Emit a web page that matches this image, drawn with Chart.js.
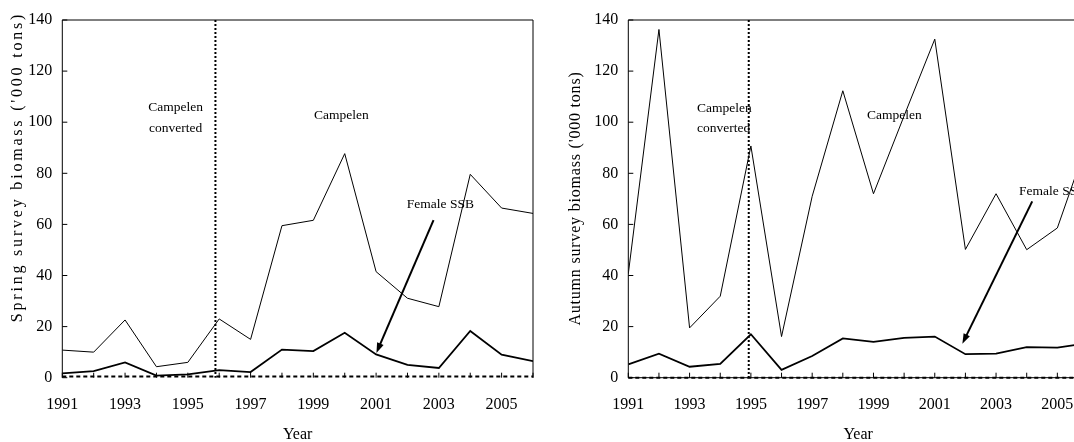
<!DOCTYPE html>
<html>
<head>
<meta charset="utf-8">
<script src="https://cdn.jsdelivr.net/npm/chart.js@4.4.1/dist/chart.umd.min.js"></script>
<style>
  html, body { margin: 0; padding: 0; background: #fff; overflow: hidden; }
  #wrap { position: relative; width: 1074px; height: 442px; overflow: hidden; }
  #springBox { position: absolute; left: 0; top: 0; width: 550px; height: 442px; }
  #autumnBox { position: absolute; left: 540px; top: 0; width: 565px; height: 442px; }
</style>
</head>
<body>
<div id="wrap">
  <div id="springBox"><canvas id="springChart" width="550" height="442"></canvas></div>
  <div id="autumnBox"><canvas id="autumnChart" width="565" height="442"></canvas></div>
</div>
<script>
var years = [1991, 1992, 1993, 1994, 1995, 1996, 1997, 1998, 1999, 2000, 2001, 2002, 2003, 2004, 2005, 2006];

var springCampelen = [10.8, 10.0, 22.6, 4.3, 6.0, 23.0, 15.0, 59.5, 61.6, 87.7, 41.5, 31.1, 27.8, 79.6, 66.4, 64.3];
var springFemaleSsb = [1.7, 2.6, 6.0, 0.8, 1.3, 3.0, 2.2, 11.0, 10.4, 17.6, 9.1, 5.0, 3.8, 18.3, 9.0, 6.5];
var springBaseline = [0.5, 0.5, 0.5, 0.5, 0.5, 0.5, 0.5, 0.5, 0.5, 0.5, 0.5, 0.5, 0.5, 0.5, 0.5, 0.5];

var autumnCampelen = [40.7, 136.3, 19.5, 31.9, 90.7, 16.1, 71.0, 112.3, 72.0, 102.5, 132.5, 50.2, 72.0, 50.1, 58.6, 93.0];
var autumnFemaleSsb = [5.2, 9.4, 4.3, 5.4, 17.0, 3.1, 8.5, 15.4, 14.0, 15.6, 16.1, 9.2, 9.4, 12.0, 11.8, 13.5];
var autumnBaseline = [0, 0, 0, 0, 0, 0, 0, 0, 0, 0, 0, 0, 0, 0, 0, 0];

var yTicks = [0, 20, 40, 60, 80, 100, 120, 140];
var xLabelYears = [1991, 1993, 1995, 1997, 1999, 2001, 2003, 2005];

// gear change (Campelen converted -> Campelen)
var springConversionYear = 1995.88;
var autumnConversionYear = 1994.93;

var FONT = "'Liberation Serif', 'Times New Roman', serif";

function points(vals) {
    return years.map(function (y, i) { return { x: y, y: vals[i] }; });
}

// box, inner ticks, dotted divider, notes, arrow and axis titles
var frame = {
    id: "frame",
    afterDatasetsDraw: function (chart, args, o) {
        var ctx = chart.ctx, a = chart.chartArea;
        var xs = chart.scales.x, ys = chart.scales.y;
        ctx.save();
        ctx.strokeStyle = "#000";
        ctx.lineWidth = 1;
        ctx.beginPath();
        ctx.moveTo(a.left, a.bottom);
        ctx.lineTo(a.left, a.top);
        ctx.lineTo(a.right, a.top);
        ctx.lineTo(a.right, a.bottom);
        if (o.solidBottom) ctx.lineTo(a.left, a.bottom);
        ctx.stroke();

        ctx.beginPath();
        years.forEach(function (yr) {
            var px = xs.getPixelForValue(yr);
            ctx.moveTo(px, a.bottom);
            ctx.lineTo(px, a.bottom - 5);
        });
        yTicks.forEach(function (v) {
            var py = ys.getPixelForValue(v);
            ctx.moveTo(a.left, py);
            ctx.lineTo(a.left + 5, py);
        });
        ctx.stroke();

        // dotted divider
        var dx = xs.getPixelForValue(o.conversionYear);
        ctx.lineWidth = 2;
        ctx.setLineDash([2, 2]);
        ctx.beginPath();
        ctx.moveTo(dx, a.top);
        ctx.lineTo(dx, a.bottom);
        ctx.stroke();
        ctx.setLineDash([]);

        // notes
        ctx.fillStyle = "#000";
        ctx.font = "13.5px " + FONT;
        ctx.textBaseline = "middle";
        o.notes.forEach(function (n) {
            ctx.textAlign = n.align;
            ctx.fillText(n.text, xs.getPixelForValue(n.x), ys.getPixelForValue(n.y));
        });

        // arrow
        var x1 = xs.getPixelForValue(o.arrow[0]), y1 = ys.getPixelForValue(o.arrow[1]);
        var x2 = xs.getPixelForValue(o.arrow[2]), y2 = ys.getPixelForValue(o.arrow[3]);
        var ang = Math.atan2(y2 - y1, x2 - x1);
        ctx.lineWidth = 2;
        ctx.beginPath();
        ctx.moveTo(x1, y1);
        ctx.lineTo(x2 - 6 * Math.cos(ang), y2 - 6 * Math.sin(ang));
        ctx.stroke();
        ctx.beginPath();
        ctx.moveTo(x2, y2);
        ctx.lineTo(x2 - 10 * Math.cos(ang) + 3.5 * Math.sin(ang), y2 - 10 * Math.sin(ang) - 3.5 * Math.cos(ang));
        ctx.lineTo(x2 - 10 * Math.cos(ang) - 3.5 * Math.sin(ang), y2 - 10 * Math.sin(ang) + 3.5 * Math.cos(ang));
        ctx.closePath();
        ctx.fill();

        // axis titles
        ctx.font = "16px " + FONT;
        ctx.textAlign = "center";
        ctx.fillText("Year", (a.left + a.right) / 2, 435);
        ctx.save();
        ctx.translate(o.yTitleX, o.yTitleY);
        ctx.rotate(-Math.PI / 2);
        ctx.letterSpacing = o.yTitleSpacing;
        ctx.fillText(o.yTitle, 0, 0);
        ctx.restore();
        ctx.restore();
    }
};

function makeChart(id, campelen, ssb, base, opt) {
    var ctx = document.getElementById(id).getContext("2d");
    return new Chart(ctx, {
        type: "line",
        data: {
            datasets: [
                { label: "Campelen", data: points(campelen), borderColor: "#000", borderWidth: 1 },
                { label: "Female SSB", data: points(ssb), borderColor: "#000", borderWidth: 1.8 },
                { label: "baseline", data: points(base), borderColor: "#000", borderWidth: 2, borderDash: [4, 3], clip: 4 }
            ]
        },
        options: {
            responsive: false,
            animation: false,
            layout: { padding: { top: 20, right: opt.padRight, left: 0, bottom: 0 } },
            elements: { point: { radius: 0 }, line: { tension: 0 } },
            plugins: {
                legend: { display: false },
                tooltip: { enabled: false },
                frame: opt.frame
            },
            scales: {
                x: {
                    type: "linear",
                    min: 1991,
                    max: 2006,
                    grid: { display: false, drawTicks: false },
                    border: { display: false },
                    afterFit: function (s) { s.height = 64.3; },
                    ticks: {
                        stepSize: 1,
                        autoSkip: false,
                        maxRotation: 0,
                        padding: 17,
                        color: "#000",
                        font: { family: FONT, size: 16 },
                        callback: function (v) { return xLabelYears.indexOf(v) >= 0 ? String(v) : ""; }
                    }
                },
                y: {
                    min: 0,
                    max: 140,
                    grid: { display: false, drawTicks: false },
                    border: { display: false },
                    afterFit: function (s) { s.width = opt.yAxisWidth; },
                    ticks: {
                        stepSize: 20,
                        padding: 10,
                        color: "#000",
                        font: { family: FONT, size: 16 }
                    }
                }
            }
        },
        plugins: [frame]
    });
}

makeChart("springChart", springCampelen, springFemaleSsb, springBaseline, {
    padRight: 8,
    yAxisWidth: 62.3,
    frame: {
        solidBottom: false,
        conversionYear: springConversionYear,
        notes: [
            { text: "Campelen", x: 1994.61, y: 105.6, align: "center" },
            { text: "converted", x: 1994.61, y: 97.7, align: "center" },
            { text: "Campelen", x: 1999.89, y: 102.8, align: "center" },
            { text: "Female SSB", x: 2003.05, y: 68.0, align: "center" }
        ],
        arrow: [2002.83, 61.7, 2001.01, 9.7],
        yTitle: "Spring survey biomass ('000 tons)",
        yTitleX: 18,
        yTitleY: 167,
        yTitleSpacing: "2.8px"
    }
});

makeChart("autumnChart", autumnCampelen, autumnFemaleSsb, autumnBaseline, {
    padRight: 13,
    yAxisWidth: 88.3,
    frame: {
        solidBottom: true,
        conversionYear: autumnConversionYear,
        notes: [
            { text: "Campelen", x: 1993.24, y: 105.5, align: "left" },
            { text: "converted", x: 1993.24, y: 97.6, align: "left" },
            { text: "Campelen", x: 1999.68, y: 102.7, align: "center" },
            { text: "Female SSB", x: 2003.75, y: 72.9, align: "left" }
        ],
        arrow: [2004.18, 69.0, 2001.9, 13.3],
        yTitle: "Autumn survey biomass ('000 tons)",
        yTitleX: 36,
        yTitleY: 198.5,
        yTitleSpacing: "0.8px"
    }
});
</script>
</body>
</html>
